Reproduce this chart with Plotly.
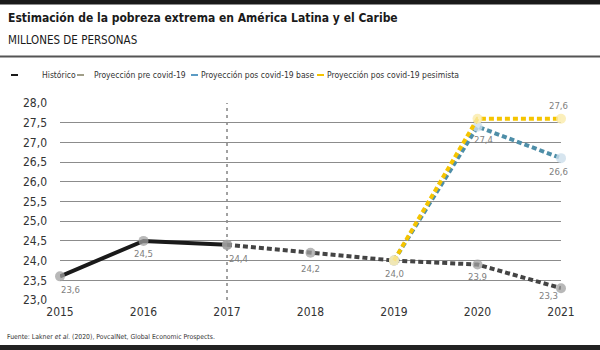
import plotly.graph_objects as go

years_hist = [2015, 2016, 2017]
vals_hist = [23.6, 24.5, 24.4]
years_pre = [2017, 2018, 2019, 2020, 2021]
vals_pre = [24.4, 24.2, 24.0, 23.9, 23.3]
years_base = [2019, 2020, 2021]
vals_base = [24.0, 27.4, 26.6]
years_pes = [2019, 2020, 2021]
vals_pes = [24.0, 27.6, 27.6]

series_names = ["Histórico", "Proyección pre covid-19", "Proyección pos covid-19 base",
                "Proyección pos covid-19 pesimista"]
title_text = "Estimación de la pobreza extrema en América Latina y el Caribe"
subtitle_text = "MILLONES DE PERSONAS"
source_text = "Fuente: Lakner <i>et al.</i> (2020), PovcalNet, Global Economic Prospects."

FONT = "DejaVu Sans Condensed, Liberation Sans Narrow, sans-serif"

W, H = 600, 350
L, R, T, B = 60, 561, 103, 300


def xp(px):
    return (px - L) / (R - L)


def yp(py):
    return (B - py) / (B - T)


fig = go.Figure()

fig.add_trace(go.Scatter(x=years_hist, y=vals_hist, mode="lines+markers", name=series_names[0],
                         line=dict(color="#1a1a1a", width=4),
                         marker=dict(size=10, color="rgba(160,160,160,0.75)"),
                         cliponaxis=False, showlegend=False))
fig.add_trace(go.Scatter(x=years_pre, y=vals_pre, mode="lines+markers", name=series_names[1],
                         line=dict(color="#444444", width=4, dash="5px,3px"),
                         marker=dict(size=10, color="rgba(160,160,160,0.75)"),
                         cliponaxis=False, showlegend=False))
fig.add_trace(go.Scatter(x=years_base, y=vals_base, mode="lines+markers", name=series_names[2],
                         line=dict(color="#4e8ea8", width=4, dash="5px,3px"),
                         marker=dict(size=10, color="rgba(205,222,235,0.8)"),
                         cliponaxis=False, showlegend=False))
fig.add_trace(go.Scatter(x=years_pes, y=vals_pes, mode="lines+markers", name=series_names[3],
                         line=dict(color="#f5c400", width=4, dash="5px,3px"),
                         marker=dict(size=10, color="rgba(250,235,170,0.8)"),
                         cliponaxis=False, showlegend=False))

annotations = []
shapes = []

# data labels (x, y, xshift, yshift)
label_pts = [
    (years_hist[0], vals_hist[0], 10, -13),
    (years_hist[1], vals_hist[1], 0, -13),
    (years_hist[2], vals_hist[2], 11, -14),
    (years_pre[1], vals_pre[1], 0, -16),
    (years_pre[2], vals_pre[2], 0, -13),
    (years_pre[3], vals_pre[3], 0, -12),
    (years_pre[4], vals_pre[4], -13, -7),
    (years_base[1], vals_base[1], 6, -13),
    (years_base[2], vals_base[2], -3, -13),
    (years_pes[2], vals_pes[2], -3, 13),
]
for x, y, dx, dy in label_pts:
    annotations.append(dict(x=x, y=y, xref="x", yref="y", text=f"{y:.1f}".replace(".", ","),
                            showarrow=False, xshift=dx, yshift=dy,
                            font=dict(family=FONT, size=9.5, color="#808080")))

# title / subtitle / source
annotations.append(dict(x=xp(6), y=yp(18), xref="paper", yref="paper", text=f"<b>{title_text}</b>",
                        showarrow=False, xanchor="left", yanchor="middle",
                        font=dict(family=FONT, size=12, color="#1a1a1a")))
annotations.append(dict(x=xp(6), y=yp(40), xref="paper", yref="paper", text=subtitle_text,
                        showarrow=False, xanchor="left", yanchor="middle",
                        font=dict(family=FONT, size=11.5, color="#1a1a1a")))
annotations.append(dict(x=xp(5), y=yp(337), xref="paper", yref="paper", text=source_text,
                        showarrow=False, xanchor="left", yanchor="middle",
                        font=dict(family=FONT, size=6.8, color="#333333")))

# legend (name, colour, swatch x, text x) in pixels
legend_items = [
    (series_names[0], "#1a1a1a", 11, 40),
    (series_names[1], "#a09e88", 77, 92),
    (series_names[2], "#5b9bc4", 191, 199),
    (series_names[3], "#f5c400", 317, 325),
]
for name, col, sx, tx in legend_items:
    shapes.append(dict(type="line", xref="paper", yref="paper", x0=xp(sx), x1=xp(sx + 7),
                       y0=yp(75), y1=yp(75), line=dict(color=col, width=2)))
    annotations.append(dict(x=xp(tx), y=yp(75), xref="paper", yref="paper", text=name,
                            showarrow=False, xanchor="left", yanchor="middle",
                            font=dict(family=FONT, size=8.5, color="#333333")))

# decorative bars
shapes.append(dict(type="rect", xref="paper", yref="paper", x0=xp(0), x1=xp(600), y0=yp(0), y1=yp(4.5),
                   fillcolor="#1a1a1a", line=dict(width=0), layer="above"))
shapes.append(dict(type="line", xref="paper", yref="paper", x0=xp(0), x1=xp(600), y0=yp(56.5), y1=yp(56.5),
                   line=dict(color="#555555", width=2)))
shapes.append(dict(type="rect", xref="paper", yref="paper", x0=xp(0), x1=xp(600), y0=yp(345), y1=yp(350),
                   fillcolor="#222222", line=dict(width=0)))
# vertical reference line at 2017
shapes.append(dict(type="line", xref="x", yref="paper", x0=2017, x1=2017, y0=0, y1=1,
                   line=dict(color="#444444", width=1, dash="3px,4px"), layer="below"))

fig.update_layout(
    width=W, height=H,
    margin=dict(l=L, r=W - R, t=T, b=H - B, pad=0),
    paper_bgcolor="white", plot_bgcolor="white",
    separators=",.",
    font=dict(family=FONT, size=12, color="#333333"),
    annotations=annotations, shapes=shapes,
    xaxis=dict(range=[2015, 2021], tickmode="array", tickvals=list(range(2015, 2022)),
               showgrid=False, zeroline=False, showline=False, ticks="", ticklabelstandoff=3,
               tickfont=dict(family=FONT, size=12, color="#333333")),
    yaxis=dict(range=[23, 28], dtick=0.5, tickformat=".1f", showgrid=True, gridcolor="#8c8c8c",
               gridwidth=1, zeroline=False, showline=False, ticks="", ticklabelstandoff=12,
               tickfont=dict(family=FONT, size=12, color="#333333")),
)

fig.write_html("out.html")
